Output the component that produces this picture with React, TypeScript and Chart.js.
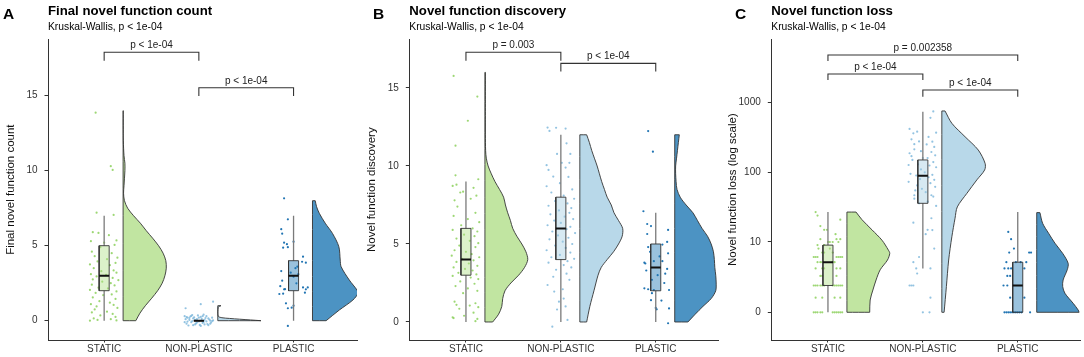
import React, { useEffect, useRef } from "react";
import { Chart, registerables } from "chart.js";
Chart.register(...registerables);

const FONT = '"Liberation Sans", Arial, Helvetica, sans-serif';
const CATEGORIES = ["STATIC", "NON-PLASTIC", "PLASTIC"];

// ---------- Panel A: Final novel function count ----------
// jittered points: [x offset from category, value]
const A_STATIC_POINTS: [number, number][] = [
  [-0.09, 13.87], [0.07, 10.3], [0.09, 10.05], [-0.08, 7.2], [0.1, 7.05],
  [-0.12, 5.9], [-0.06, 5.85], [0.05, 5.7], [0.13, 5.35], [-0.14, 5.3], [0.0, 5.2], [0.11, 5.05], [-0.04, 4.9],
  [-0.13, 4.6], [0.08, 4.5], [-0.1, 4.3], [0.14, 4.2], [0.03, 4.1], [-0.07, 3.95], [0.12, 3.85], [-0.15, 3.75], [0.06, 3.7],
  [-0.11, 3.5], [0.1, 3.35], [-0.03, 3.3], [0.13, 3.2], [-0.14, 3.1], [0.02, 3.05], [-0.08, 2.95], [0.09, 2.85], [-0.12, 2.75], [0.15, 2.7], [-0.02, 2.6],
  [0.07, 2.5], [-0.13, 2.4], [0.11, 2.35], [-0.06, 2.2], [0.04, 2.15], [-0.15, 2.05], [0.13, 1.95], [-0.09, 1.85], [0.08, 1.75], [-0.01, 1.7],
  [-0.12, 1.55], [0.12, 1.45], [-0.05, 1.3], [0.06, 1.2], [-0.14, 1.1], [0.1, 1.05], [-0.08, 0.95], [0.14, 0.85], [-0.1, 0.75],
  [0.03, 0.6], [-0.13, 0.55], [0.09, 0.45], [-0.04, 0.35], [0.12, 0.25], [-0.11, 0.15], [0.07, 0.1], [-0.07, 0.05], [0.13, 0.02], [-0.15, 0.0],
];
const A_NONPLASTIC_POINTS: [number, number][] = [
  [-0.14, 0.83], [0.02, 1.1], [0.15, 1.27],
  [-0.15, 0.3], [-0.12, 0.2], [-0.1, 0.05], [-0.08, -0.1], [-0.13, -0.2], [-0.06, 0.15], [-0.04, -0.25], [-0.02, 0.1],
  [0.0, -0.05], [0.02, 0.25], [0.04, -0.15], [0.06, 0.05], [0.08, 0.3], [0.1, -0.3], [0.12, 0.0], [0.14, 0.2],
  [-0.11, -0.32], [-0.09, 0.28], [-0.07, -0.02], [-0.05, 0.22], [-0.03, -0.18], [-0.01, 0.35], [0.01, -0.28], [0.03, 0.12],
  [0.05, -0.08], [0.07, 0.18], [0.09, -0.22], [0.11, 0.08], [0.13, -0.12], [0.15, 0.02], [-0.14, 0.1], [-0.12, -0.06],
  [-0.1, 0.18], [-0.08, 0.32], [-0.06, -0.3], [-0.04, 0.05], [-0.02, -0.12], [0.0, 0.2], [0.02, -0.35], [0.04, 0.3],
  [0.06, -0.25], [0.08, -0.05], [0.1, 0.15], [0.12, -0.2], [0.14, -0.02], [-0.15, -0.1], [-0.13, 0.24], [0.05, 0.4], [-0.07, 0.38],
];
const A_PLASTIC_POINTS: [number, number][] = [
  [-0.1, 8.16], [-0.06, 6.76], [-0.13, 6.1], [-0.12, 5.8], [-0.1, 5.2], [-0.07, 5.1], [0.0, 5.27], [-0.11, 4.87], [-0.06, 4.9],
  [0.1, 4.27], [0.09, 3.93], [0.13, 3.87], [-0.13, 3.31], [-0.12, 2.67], [0.0, 2.93], [0.03, 2.49], [-0.1, 2.09], [-0.09, 2.1],
  [-0.14, 2.3], [-0.15, 1.78], [-0.11, 1.8], [0.1, 2.22], [0.13, 2.09], [0.15, 2.22], [0.12, 1.87], [-0.08, 1.16], [-0.06, 0.83],
  [-0.02, 0.87], [0.0, 1.0], [-0.06, -0.35], [0.04, 3.6], [-0.03, 3.2], [0.05, 3.1], [0.02, 3.5],
];
// box stats: [lower whisker, Q1, median, Q3, upper whisker]
const A_BOXES: number[][] = [[0, 2, 3, 5, 7], [0, 0, 0, 0, 0], [0, 2, 3, 4, 7]];
// half-violin profiles: [value, relative density width]
const A_STATIC_VIOLIN: [number, number][] = [
  [0, 0.28], [0.5, 0.37], [1, 0.49], [1.5, 0.63], [2, 0.76], [2.5, 0.86], [3, 0.92], [3.5, 0.95], [4, 0.94], [4.5, 0.88],
  [5, 0.78], [5.5, 0.65], [6, 0.51], [6.5, 0.38], [7, 0.23], [7.5, 0.1], [8, 0.03], [8.5, 0.01], [9, 0.02], [10, 0.04],
  [10.5, 0.04], [11, 0.02], [12, 0.005], [13, 0.003], [14, 0.003],
];
const A_NONPLASTIC_VIOLIN: [number, number][] = [
  [0, 0.95], [0.05, 0.72], [0.1, 0.48], [0.15, 0.26], [0.2, 0.09], [0.3, 0.01], [0.9, 0.01], [0.97, 0.04], [1, 0.07],
];
const A_PLASTIC_VIOLIN: [number, number][] = [
  [0, 0.3], [0.71, 0.59], [1.38, 0.89], [1.82, 1.0], [2.04, 0.98], [2.71, 0.81], [3.6, 0.63], [4.04, 0.61], [4.93, 0.58],
  [5.82, 0.44], [6.5, 0.28], [7.16, 0.15], [7.6, 0.09], [8, 0.06],
];
const A_TICKS = [0, 5, 10, 15];
const A_TICK_LABELS = ["0", "5", "10", "15"];
const A_BRACKET_LABELS = ["p < 1e-04", "p < 1e-04"];

// ---------- Panel B: Novel function discovery ----------
const B_STATIC_POINTS: [number, number][] = [
  [-0.13, 15.77], [0.12, 14.45], [0.02, 12.9], [-0.11, 11.3], [-0.11, 9.4], [0.13, 9.15], [-0.14, 8.72], [-0.1, 8.8], [-0.06, 8.3],
  [-0.03, 8.35], [0.08, 8.6], [0.11, 8.1], [0.05, 7.9], [-0.12, 7.8],
  [-0.09, 7.4], [0.1, 7.0], [-0.13, 6.8], [0.02, 6.6], [0.14, 6.4], [-0.05, 6.2], [0.07, 6.0], [-0.14, 5.9], [0.12, 5.8], [-0.02, 5.6],
  [0.09, 5.5], [-0.1, 5.35], [0.04, 5.2], [0.13, 5.05],
  [-0.07, 4.9], [0.1, 4.8], [-0.12, 4.6], [0.0, 4.5], [0.06, 4.35], [-0.15, 4.25], [0.14, 4.15], [-0.04, 4.05], [0.08, 3.95],
  [-0.1, 3.85], [0.03, 3.75], [0.12, 3.6], [-0.13, 3.5], [-0.01, 3.4], [0.07, 3.3], [-0.08, 3.15], [0.11, 3.05],
  [-0.14, 2.95], [0.05, 2.85], [0.13, 2.75], [-0.06, 2.6], [0.09, 2.45], [-0.11, 2.3], [0.02, 2.15], [0.12, 2.0], [-0.03, 1.85],
  [-0.12, 1.3], [0.1, 1.2], [-0.1, 1.1], [0.04, 1.05], [0.13, 0.95], [-0.07, 0.85], [0.08, 0.6], [-0.14, 0.3], [-0.13, 0.25],
  [0.12, 0.2], [0.1, 0.05], [-0.02, 0.4],
];
const B_NONPLASTIC_POINTS: [number, number][] = [
  [-0.14, 12.46], [-0.05, 12.45], [0.05, 12.4], [-0.12, 12.25], [0.06, 11.45], [0.1, 10.77], [-0.04, 10.77], [-0.15, 10.05],
  [-0.13, 9.75], [0.01, 10.2], [0.05, 9.9], [0.09, 10.2], [-0.08, 9.32], [0.08, 9.3], [-0.01, 8.9], [-0.15, 8.7],
  [0.12, 8.5], [-0.1, 8.3], [0.03, 8.1], [0.14, 7.9], [-0.06, 7.75], [0.07, 7.6], [-0.13, 7.45], [0.11, 7.3], [-0.02, 7.15],
  [0.09, 7.0], [-0.11, 6.9], [0.04, 6.75], [0.13, 6.6], [-0.07, 6.5], [0.0, 6.35], [-0.14, 6.2], [0.1, 6.1], [0.06, 5.95],
  [-0.09, 5.8], [0.15, 5.7], [-0.03, 5.55], [0.08, 5.4], [-0.12, 5.3], [0.02, 5.15], [0.12, 5.0], [-0.06, 4.9], [0.05, 4.75],
  [-0.15, 4.6], [0.1, 4.45], [-0.01, 4.3], [-0.1, 4.15], [0.14, 4.05], [0.07, 3.9], [-0.13, 3.8], [0.03, 3.65], [0.11, 3.5],
  [-0.05, 3.35], [0.06, 3.1], [-0.08, 2.9], [0.09, 2.7], [-0.14, 2.37], [-0.07, 1.95], [0.02, 2.1], [-0.02, 1.3], [0.03, 1.5],
  [0.05, 1.0], [-0.04, 0.8], [-0.09, -0.3], [0.07, 0.13],
];
const B_PLASTIC_POINTS: [number, number][] = [
  [-0.08, 12.24], [-0.03, 10.92], [-0.09, 6.28], [-0.05, 6.15], [-0.09, 5.64], [0.13, 5.9], [0.12, 5.13], [0.13, 4.4], [0.07, 4.96],
  [-0.08, 4.8], [-0.12, 3.8], [-0.11, 3.75], [-0.02, 3.9], [0.07, 3.9], [-0.1, 3.3], [0.12, 3.4], [0.1, 3.1], [-0.04, 2.7],
  [-0.12, 2.16], [-0.08, 2.1], [-0.02, 2.05], [-0.04, 1.85], [0.14, 2.05], [0.06, 1.37], [-0.05, 1.4], [0.01, 0.81], [0.14, 0.87],
  [0.13, -0.08], [0.0, 0.9], [0.04, 4.2], [-0.06, 4.5], [0.02, 3.0], [0.09, 2.5], [-0.13, 7.1],
];
const B_BOXES: number[][] = [[0, 3, 4, 6, 9], [0, 4, 6, 8, 12], [0, 2, 3.5, 5, 7]];
const B_STATIC_VIOLIN: [number, number][] = [
  [0, 0.17], [0.5, 0.3], [1, 0.37], [1.5, 0.39], [2, 0.44], [2.5, 0.57], [3, 0.74], [3.5, 0.87], [4, 0.94], [4.5, 0.9],
  [5, 0.81], [5.5, 0.7], [6, 0.61], [6.5, 0.56], [7, 0.5], [7.5, 0.45], [8, 0.41], [8.5, 0.32], [9, 0.22], [9.5, 0.14],
  [10, 0.07], [10.5, 0.03], [11, 0.015], [12, 0.01], [13, 0.01], [14, 0.01], [15, 0.01], [16, 0.01],
];
const B_NONPLASTIC_VIOLIN: [number, number][] = [
  [0, 0.15], [1, 0.22], [2, 0.31], [3, 0.4], [3.5, 0.47], [4, 0.6], [4.5, 0.74], [5, 0.85], [5.5, 0.93], [6, 0.94],
  [6.5, 0.85], [7, 0.75], [7.5, 0.69], [8, 0.6], [8.5, 0.54], [9, 0.48], [10, 0.38], [10.5, 0.32], [11, 0.26], [11.5, 0.21], [12, 0.15],
];
const B_PLASTIC_VIOLIN: [number, number][] = [
  [0, 0.29], [0.5, 0.45], [1, 0.62], [1.5, 0.8], [2, 0.9], [2.5, 0.91], [3, 0.9], [3.5, 0.88], [4, 0.87], [4.5, 0.85],
  [5, 0.8], [5.5, 0.72], [6, 0.6], [6.5, 0.5], [7, 0.4], [7.5, 0.25], [8, 0.12], [8.5, 0.05], [9, 0.03], [9.5, 0.02],
  [10, 0.02], [10.5, 0.04], [11, 0.06], [11.5, 0.08], [12, 0.1],
];
const B_TICKS = [0, 5, 10, 15];
const B_TICK_LABELS = ["0", "5", "10", "15"];
const B_BRACKET_LABELS = ["p = 0.003", "p < 1e-04"];

// ---------- Panel C: Novel function loss (pseudo-log scale) ----------
const C_STATIC_POINTS: [number, number][] = [
  [-0.15, 0], [-0.13, 0], [-0.11, 0], [-0.08, 0], [-0.06, 0], [0.05, 0], [0.07, 0], [0.09, 0], [0.11, 0], [0.13, 0], [0.15, 0],
  [-0.13, 1], [-0.06, 1], [0.07, 1], [0.13, 1],
  [-0.15, 2], [-0.13, 2], [-0.11, 2], [-0.08, 2], [-0.06, 2], [-0.04, 2], [0.05, 2], [0.07, 2], [0.09, 2], [0.11, 2], [0.13, 2], [0.15, 2],
  [-0.08, 3], [-0.06, 3], [0.09, 3],
  [-0.13, 4], [-0.06, 4], [-0.04, 4], [0.09, 4], [0.13, 4],
  [-0.11, 5], [-0.08, 5], [-0.06, 5], [0.05, 5], [0.07, 5],
  [-0.15, 6], [-0.13, 6], [-0.11, 6], [0.09, 6], [0.11, 6], [0.13, 6], [0.15, 6],
  [-0.06, 7], [-0.04, 7], [0.05, 7], [0.02, 8], [-0.1, 8], [-0.11, 9], [-0.04, 9],
  [0.0, 10], [0.02, 10], [0.05, 10], [0.11, 10], [-0.08, 11], [0.09, 11], [0.13, 11],
  [0.08, 13], [-0.04, 15], [-0.01, 15], [-0.08, 17], [0.13, 21], [-0.11, 24], [-0.13, 27],
];
const C_NONPLASTIC_POINTS: [number, number][] = [
  [-0.14, 416], [-0.1, 360], [-0.06, 380], [-0.12, 296], [-0.09, 252], [-0.04, 276], [-0.09, 213], [-0.14, 187], [-0.11, 150],
  [-0.15, 127], [-0.13, 95], [-0.15, 73], [-0.09, 47], [-0.09, 42], [-0.1, 19], [-0.04, 6], [-0.1, 5], [-0.07, 4],
  [-0.14, 2], [-0.12, 2], [-0.1, 2], [0.08, 1], [0.0, 0], [0.07, 0],
  [-0.05, 130], [-0.02, 110], [-0.07, 90], [-0.03, 80], [-0.06, 65], [-0.01, 58], [-0.08, 55], [-0.04, 36], [-0.12, 170],
  [-0.02, 200], [0.0, 160],
  [0.11, 740], [0.08, 600], [0.14, 368], [0.1, 274], [0.06, 320], [0.12, 230], [0.04, 250], [0.09, 195], [0.13, 175],
  [0.05, 160], [0.11, 140], [0.07, 125], [0.14, 118], [0.02, 100], [0.1, 92], [0.06, 85], [0.12, 78], [0.08, 70], [0.13, 62],
  [0.03, 52], [0.09, 47], [0.11, 45], [0.05, 38], [0.14, 33], [0.09, 22], [0.05, 15], [0.1, 14.9], [0.03, 13], [0.12, 8],
  [0.08, 4], [-0.06, 3.3],
];
const C_PLASTIC_POINTS: [number, number][] = [
  [-0.1, 14], [-0.07, 11], [-0.09, 7], [-0.04, 8], [0.14, 7], [0.12, 7], [-0.02, 5], [0.03, 5], [-0.14, 4], [-0.1, 4],
  [-0.07, 4], [0.07, 4], [-0.11, 3], [-0.08, 3], [-0.15, 2], [-0.11, 2], [-0.08, 1], [0.07, 1],
  [-0.14, 0], [-0.12, 0], [-0.1, 0], [-0.08, 0], [-0.06, 0], [-0.04, 0], [-0.02, 0], [0, 0], [0.02, 0], [0.04, 0], [0.13, 0],
  [0.09, 5], [-0.12, 5],
];
const C_BOXES: number[][] = [[0, 2, 5, 9, 27], [4, 36, 89, 150, 735], [0, 0, 2, 5, 27]];
const C_STATIC_VIOLIN: [number, number][] = [
  [0, 0.5], [0.83, 0.51], [1.6, 0.57], [2.55, 0.64], [3.8, 0.73], [5.4, 0.89], [6.8, 0.94], [7.6, 0.91], [10.6, 0.77],
  [15, 0.55], [21, 0.33], [27, 0.2],
];
const C_NONPLASTIC_VIOLIN: [number, number][] = [
  [0, 0.05], [1.9, 0.1], [5.4, 0.15], [11.9, 0.22], [22, 0.29], [32, 0.34], [50, 0.55], [78, 0.77], [108, 0.94], [134, 0.95],
  [208, 0.8], [322, 0.51], [501, 0.22], [752, 0.07],
];
const C_PLASTIC_VIOLIN: [number, number][] = [
  [0, 0.93], [0.15, 0.91], [0.6, 0.8], [1.33, 0.62], [1.9, 0.57], [2.55, 0.58], [3.8, 0.67], [4.8, 0.69], [6.8, 0.57],
  [9.6, 0.4], [13.4, 0.26], [18.6, 0.13], [26.5, 0.07],
];
const C_TICKS = [0, 10, 100, 1000];
const C_TICK_LABELS = ["0", "10", "100", "1000"];
const C_BRACKET_LABELS = ["p = 0.002358", "p < 1e-04", "p < 1e-04"];

// ---------- styles ----------
const VIOLIN_FILL = ["rgba(178,223,138,0.8)", "rgba(166,206,227,0.8)", "rgba(31,120,180,0.8)"];
const BOX_FILL = ["rgba(178,223,138,0.45)", "rgba(166,206,227,0.45)", "rgba(31,120,180,0.45)"];
const POINT_COLORS = ["rgba(140,208,92,0.85)", "rgba(128,184,220,0.85)", "rgba(22,110,175,0.95)"];
const VIOLIN_OFFSET = 0.2;
const VIOLIN_SCALE = 0.48;
const BOX_HALF = 0.053;

const identity = (v: number) => v;
const pseudoLog = (v: number) => Math.asinh(v / 2) / Math.LN10;

type Bracket = { from: number; to: number; top: number; foot: number; label: string };
type Panel = {
  letter: string; letterX: number; title: string; subtitle: string; yTitle: string;
  width: number; left: number; right: number;
  xMin: number; xMax: number; yMin: number; yMax: number;
  ticks: number[]; tickLabels: string[]; tf: (v: number) => number;
  points: [number, number][][]; boxes: number[][]; violins: [number, number][][];
  brackets: Bracket[];
};

const PANELS: Panel[] = [
  {
    letter: "A", letterX: 3, title: "Final novel function count", subtitle: "Kruskal-Wallis, p < 1e-04",
    yTitle: "Final novel function count", width: 361, left: 48, right: 358,
    xMin: 0.407, xMax: 3.67, yMin: -1.287, yMax: 18.76,
    ticks: A_TICKS, tickLabels: A_TICK_LABELS, tf: identity,
    points: [A_STATIC_POINTS, A_NONPLASTIC_POINTS, A_PLASTIC_POINTS], boxes: A_BOXES,
    violins: [A_STATIC_VIOLIN, A_NONPLASTIC_VIOLIN, A_PLASTIC_VIOLIN],
    brackets: [
      { from: 1, to: 2, top: 17.9, foot: 17.33, label: A_BRACKET_LABELS[0] },
      { from: 2, to: 3, top: 15.53, foot: 14.98, label: A_BRACKET_LABELS[1] },
    ],
  },
  {
    letter: "B", letterX: 12, title: "Novel function discovery", subtitle: "Kruskal-Wallis, p < 1e-04",
    yTitle: "Novel function discovery", width: 361, left: 48.3, right: 357.3,
    xMin: 0.403, xMax: 3.656, yMin: -1.154, yMax: 18.12,
    ticks: B_TICKS, tickLabels: B_TICK_LABELS, tf: identity,
    points: [B_STATIC_POINTS, B_NONPLASTIC_POINTS, B_PLASTIC_POINTS], boxes: B_BOXES,
    violins: [B_STATIC_VIOLIN, B_NONPLASTIC_VIOLIN, B_PLASTIC_VIOLIN],
    brackets: [
      { from: 1, to: 2, top: 17.29, foot: 16.75, label: B_BRACKET_LABELS[0] },
      { from: 2, to: 3, top: 16.58, foot: 16.05, label: B_BRACKET_LABELS[1] },
    ],
  },
  {
    letter: "C", letterX: 13, title: "Novel function loss", subtitle: "Kruskal-Wallis, p < 1e-04",
    yTitle: "Novel function loss (log scale)", width: 362, left: 49.3, right: 358.3,
    xMin: 0.403, xMax: 3.656, yMin: -0.396, yMax: 3.9,
    ticks: C_TICKS, tickLabels: C_TICK_LABELS, tf: pseudoLog,
    points: [C_STATIC_POINTS, C_NONPLASTIC_POINTS, C_PLASTIC_POINTS], boxes: C_BOXES,
    violins: [C_STATIC_VIOLIN, C_NONPLASTIC_VIOLIN, C_PLASTIC_VIOLIN],
    brackets: [
      { from: 1, to: 3, top: 3.676, foot: 3.59, label: C_BRACKET_LABELS[0] },
      { from: 1, to: 2, top: 3.404, foot: 3.319, label: C_BRACKET_LABELS[1] },
      { from: 2, to: 3, top: 3.176, foot: 3.08, label: C_BRACKET_LABELS[2] },
    ],
  },
];

function violinData(prof: [number, number][], base: number, tf: (v: number) => number) {
  const e = 1e-3;
  const lo = tf(prof[0][0]);
  const hi = tf(prof[prof.length - 1][0]);
  const w0 = prof[0][1] * VIOLIN_SCALE;
  const wn = prof[prof.length - 1][1] * VIOLIN_SCALE;
  const pts: { x: number; y: number }[] = [];
  pts.push({ x: base, y: lo });
  pts.push({ x: base + e, y: lo });
  pts.push({ x: base + w0 - e, y: lo });
  pts.push({ x: base + w0, y: lo });
  for (let i = 1; i < prof.length; i++) {
    pts.push({ x: base + prof[i][1] * VIOLIN_SCALE, y: tf(prof[i][0]) });
  }
  pts.push({ x: base + wn - e, y: hi });
  pts.push({ x: base + e, y: hi });
  pts.push({ x: base, y: hi });
  pts.push({ x: base, y: hi - e });
  pts.push({ x: base, y: lo + e });
  pts.push({ x: base, y: lo });
  return pts;
}

function buildDatasets(p: Panel) {
  const ds: any[] = [];
  const line = { type: "line", pointRadius: 0, fill: false, tension: 0, showLine: true };
  p.brackets.forEach((b) => {
    ds.push({
      ...line,
      data: [{ x: b.from, y: b.foot }, { x: b.from, y: b.top }, { x: b.to, y: b.top }, { x: b.to, y: b.foot }],
      borderColor: "#333", borderWidth: 1.1, order: 0,
    });
  });
  p.boxes.forEach((raw, i) => {
    const x = i + 1;
    const [mn, q1, md, q3, mx] = raw.map(p.tf);
    ds.push({ ...line, data: [{ x: x - BOX_HALF, y: md }, { x: x + BOX_HALF, y: md }], borderColor: "#111", borderWidth: 2, order: 1 });
    ds.push({
      ...line,
      data: [{ x: x - BOX_HALF, y: q1 }, { x: x + BOX_HALF, y: q1 }, { x: x + BOX_HALF, y: q3 }, { x: x - BOX_HALF, y: q3 }, { x: x - BOX_HALF, y: q1 }],
      borderColor: "#333", borderWidth: 0.9, backgroundColor: BOX_FILL[i], fill: "shape", order: 2,
    });
    ds.push({ ...line, data: [{ x, y: mn }, { x, y: q1 }], borderColor: "#7a7a7a", borderWidth: 1.3, order: 3 });
    ds.push({ ...line, data: [{ x, y: q3 }, { x, y: mx }], borderColor: "#7a7a7a", borderWidth: 1.3, order: 3 });
  });
  p.points.forEach((pts, i) => {
    ds.push({
      type: "scatter",
      data: pts.map(([dx, v]) => ({ x: i + 1 + dx, y: p.tf(v) })),
      pointRadius: 1.1, pointBorderWidth: 0, pointBackgroundColor: POINT_COLORS[i], showLine: false, order: 4,
    });
  });
  p.violins.forEach((prof, i) => {
    ds.push({
      ...line,
      data: violinData(prof, i + 1 + VIOLIN_OFFSET, p.tf),
      borderColor: "#333", borderWidth: 0.9, backgroundColor: VIOLIN_FILL[i], fill: "shape", tension: 0.3, order: 5,
    });
  });
  return ds;
}

function PanelChart({ panel }: { panel: Panel }) {
  const ref = useRef<HTMLCanvasElement>(null);
  useEffect(() => {
    const p = panel;
    const header = {
      id: "header",
      afterDraw(chart: any) {
        const ctx = chart.ctx;
        const left = chart.chartArea.left;
        ctx.save();
        ctx.fillStyle = "#000";
        ctx.textAlign = "left";
        ctx.textBaseline = "alphabetic";
        ctx.font = `bold 15.5px ${FONT}`;
        ctx.fillText(p.letter, p.letterX, 18.5);
        ctx.font = `bold 13.2px ${FONT}`;
        ctx.fillText(p.title, left, 15);
        ctx.font = `10.3px ${FONT}`;
        ctx.fillText(p.subtitle, left, 29.8);
        ctx.font = `10px ${FONT}`;
        ctx.fillStyle = "#222";
        ctx.textAlign = "center";
        p.brackets.forEach((b) => {
          const x = chart.scales.x.getPixelForValue((b.from + b.to) / 2);
          const y = chart.scales.y.getPixelForValue(b.top) - 4;
          ctx.fillText(b.label, x, y);
        });
        ctx.restore();
      },
    };
    const chart = new Chart(ref.current as HTMLCanvasElement, {
      type: "scatter",
      data: { datasets: buildDatasets(p) },
      options: {
        animation: false,
        responsive: true,
        maintainAspectRatio: false,
        events: [],
        layout: { padding: { top: 39.3, left: 0, bottom: 0, right: p.width - p.right } },
        plugins: { legend: { display: false }, tooltip: { enabled: false }, title: { display: false } },
        scales: {
          x: {
            type: "linear", min: p.xMin, max: p.xMax,
            afterBuildTicks: (s: any) => { s.ticks = [1, 2, 3].map((value) => ({ value })); },
            afterFit: (s: any) => { s.height = 17; },
            ticks: {
              autoSkip: false, maxRotation: 0, padding: 1, color: "#333",
              font: { size: 10, family: FONT },
              callback: (v: any) => CATEGORIES[Math.round(Number(v)) - 1] ?? "",
            },
            grid: { drawOnChartArea: false, drawTicks: true, tickLength: 2.5, tickColor: "#333", tickWidth: 1 },
            border: { display: true, color: "#333", width: 1 },
          },
          y: {
            type: "linear", min: p.yMin, max: p.yMax,
            afterBuildTicks: (s: any) => { s.ticks = p.ticks.map((v) => ({ value: p.tf(v) })); },
            afterFit: (s: any) => { s.width = p.left; },
            ticks: {
              padding: 7, color: "#333", font: { size: 10, family: FONT },
              callback: (_v: any, idx: number) => p.tickLabels[idx],
            },
            grid: { drawOnChartArea: false, drawTicks: true, tickLength: 3.5, tickColor: "#333", tickWidth: 1 },
            border: { display: true, color: "#333", width: 1 },
            title: { display: true, text: p.yTitle, color: "#111", font: { size: 11.5, family: FONT }, padding: { top: 4, bottom: 0 } },
          },
        },
      },
      plugins: [header],
    } as any);
    return () => chart.destroy();
  }, [panel]);
  return (
    <div style={{ position: "relative", width: panel.width, height: 357, flex: "none" }}>
      <canvas ref={ref} />
    </div>
  );
}

export default function App() {
  return (
    <div style={{ position: "fixed", left: 0, top: 0, width: 1084, height: 357, display: "flex", background: "#fff" }}>
      {PANELS.map((p) => (
        <PanelChart key={p.letter} panel={p} />
      ))}
    </div>
  );
}
